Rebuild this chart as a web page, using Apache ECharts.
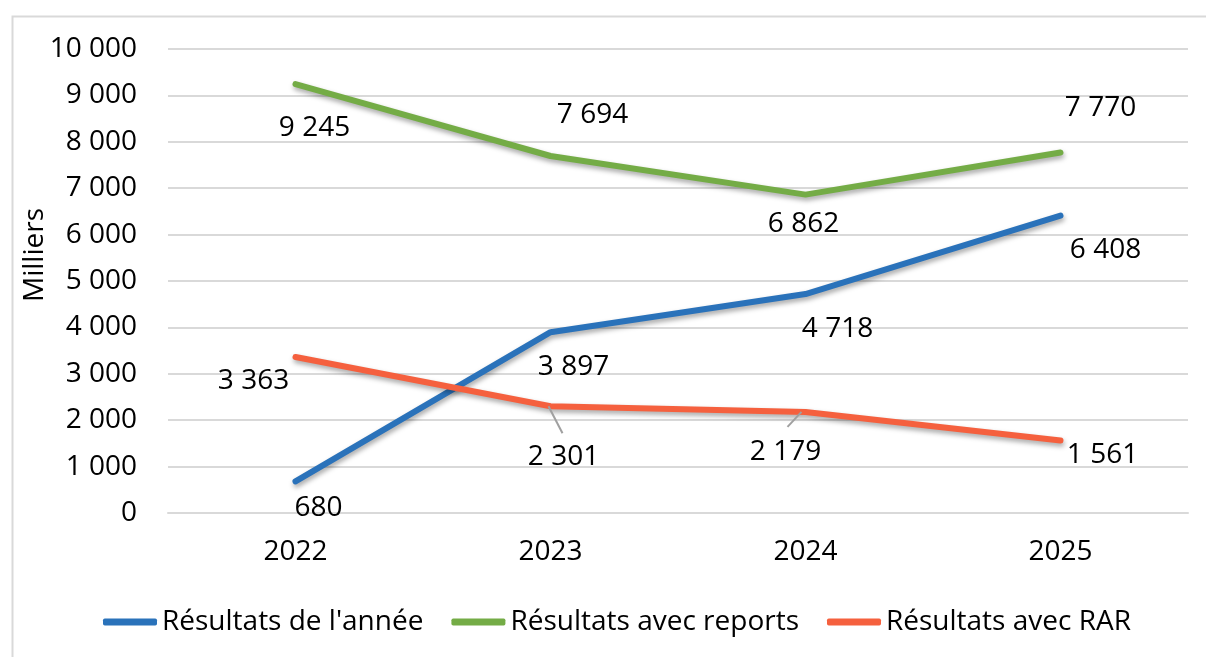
<!DOCTYPE html>
<html>
<head>
<meta charset="utf-8">
<script src="https://cdn.jsdelivr.net/npm/echarts@6/dist/echarts.min.js"></script>
<style>
  html, body { margin: 0; padding: 0; background: #fff; }
  #main { width: 1206px; height: 657px; }
</style>
</head>
<body>
<div id="main"></div>
<script>
// data
var years = ['2022', '2023', '2024', '2025'];
var resultatsAnnee = [680, 3897, 4718, 6408];
var resultatsReports = [9245, 7694, 6862, 7770];
var resultatsRar = [3363, 2301, 2179, 1561];
var seriesNames = ["Résultats de l'année", 'Résultats avec reports', 'Résultats avec RAR'];

var FONT = '"Open Sans", "Noto Sans", sans-serif';

// label offsets (px) relative to each point, per series
var offAnnee = [[23, 27], [23, 35], [32, 35], [45, 34]];
var offReports = [[19, 44], [42, -41], [-2, 29], [40, -44]];
var offRar = [[-42, 24], [13, 51], [-20, 40], [42, 14]];
// leader lines for the two RAR labels that were moved
var leaders = [
  { idx: 1, from: [-2, 0], to: [12, 27] },
  { idx: 2, from: [-4, 0], to: [-18, 15] }
];

function fmt(v) {
  return String(v).replace(/\B(?=(\d{3})+(?!\d))/g, ' ');
}

function mkData(values, offs) {
  return values.map(function (v, i) {
    return { value: v, label: { offset: offs[i] } };
  });
}

function lineSeries(name, values, offs, color) {
  return {
    name: name,
    type: 'line',
    data: mkData(values, offs),
    symbol: 'circle',
    symbolSize: 1,
    lineStyle: {
      width: 6, color: color, cap: 'round', join: 'round',
      shadowColor: 'rgba(0,0,0,0.35)', shadowBlur: 5, shadowOffsetY: 3, shadowOffsetX: 1
    },
    itemStyle: { color: color },
    label: {
      show: true, position: 'inside', color: '#000',
      fontFamily: FONT, fontSize: 28,
      formatter: function (p) { return fmt(p.value); }
    },
    emphasis: { disabled: true },
    z: 3
  };
}

var chart = echarts.init(document.getElementById('main'));

chart.setOption({
  animation: false,
  backgroundColor: '#fff',
  color: ['#2A72BA', '#74AC46', '#F5603E'],
  graphic: [
    {
      type: 'rect', left: 10, top: 14, silent: true,
      shape: { width: 1250, height: 700 },
      style: { fill: 'none', stroke: '#d9d9d9', lineWidth: 2 }
    },
    {
      type: 'text', left: 21, top: 208, rotation: Math.PI / 2, silent: true,
      style: { text: 'Milliers', font: '28px ' + FONT, fill: '#000' }
    }
  ],
  grid: { left: 168, right: 18, top: 49, bottom: 144 },
  legend: {
    left: 98, top: 603,
    icon: 'roundRect', itemWidth: 54, itemHeight: 7, itemGap: 28,
    textStyle: { fontFamily: FONT, fontSize: 28, color: '#000' },
    data: seriesNames
  },
  xAxis: {
    type: 'category', data: years, boundaryGap: true,
    axisLine: { lineStyle: { color: '#d9d9d9', width: 2 } },
    axisTick: { show: false },
    axisLabel: { color: '#000', fontFamily: FONT, fontSize: 28, margin: 25 }
  },
  yAxis: {
    type: 'value', min: 0, max: 10000, interval: 1000,
    axisLine: { show: false },
    axisTick: { show: false },
    splitLine: { lineStyle: { color: '#d9d9d9', width: 2 } },
    axisLabel: {
      color: '#000', fontFamily: FONT, fontSize: 28, margin: 31,
      formatter: fmt
    }
  },
  series: [
    lineSeries(seriesNames[0], resultatsAnnee, offAnnee, '#2A72BA'),
    lineSeries(seriesNames[1], resultatsReports, offReports, '#74AC46'),
    lineSeries(seriesNames[2], resultatsRar, offRar, '#F5603E'),
    {
      type: 'custom',
      silent: true,
      z: 4,
      data: leaders.map(function (l) { return [l.idx, resultatsRar[l.idx]]; }),
      renderItem: function (params, api) {
        var l = leaders[params.dataIndex];
        var c = api.coord([api.value(0), api.value(1)]);
        return {
          type: 'line',
          shape: { x1: c[0] + l.from[0], y1: c[1] + l.from[1], x2: c[0] + l.to[0], y2: c[1] + l.to[1] },
          style: { stroke: '#a0a0a0', lineWidth: 2 }
        };
      }
    }
  ]
});
</script>
</body>
</html>
